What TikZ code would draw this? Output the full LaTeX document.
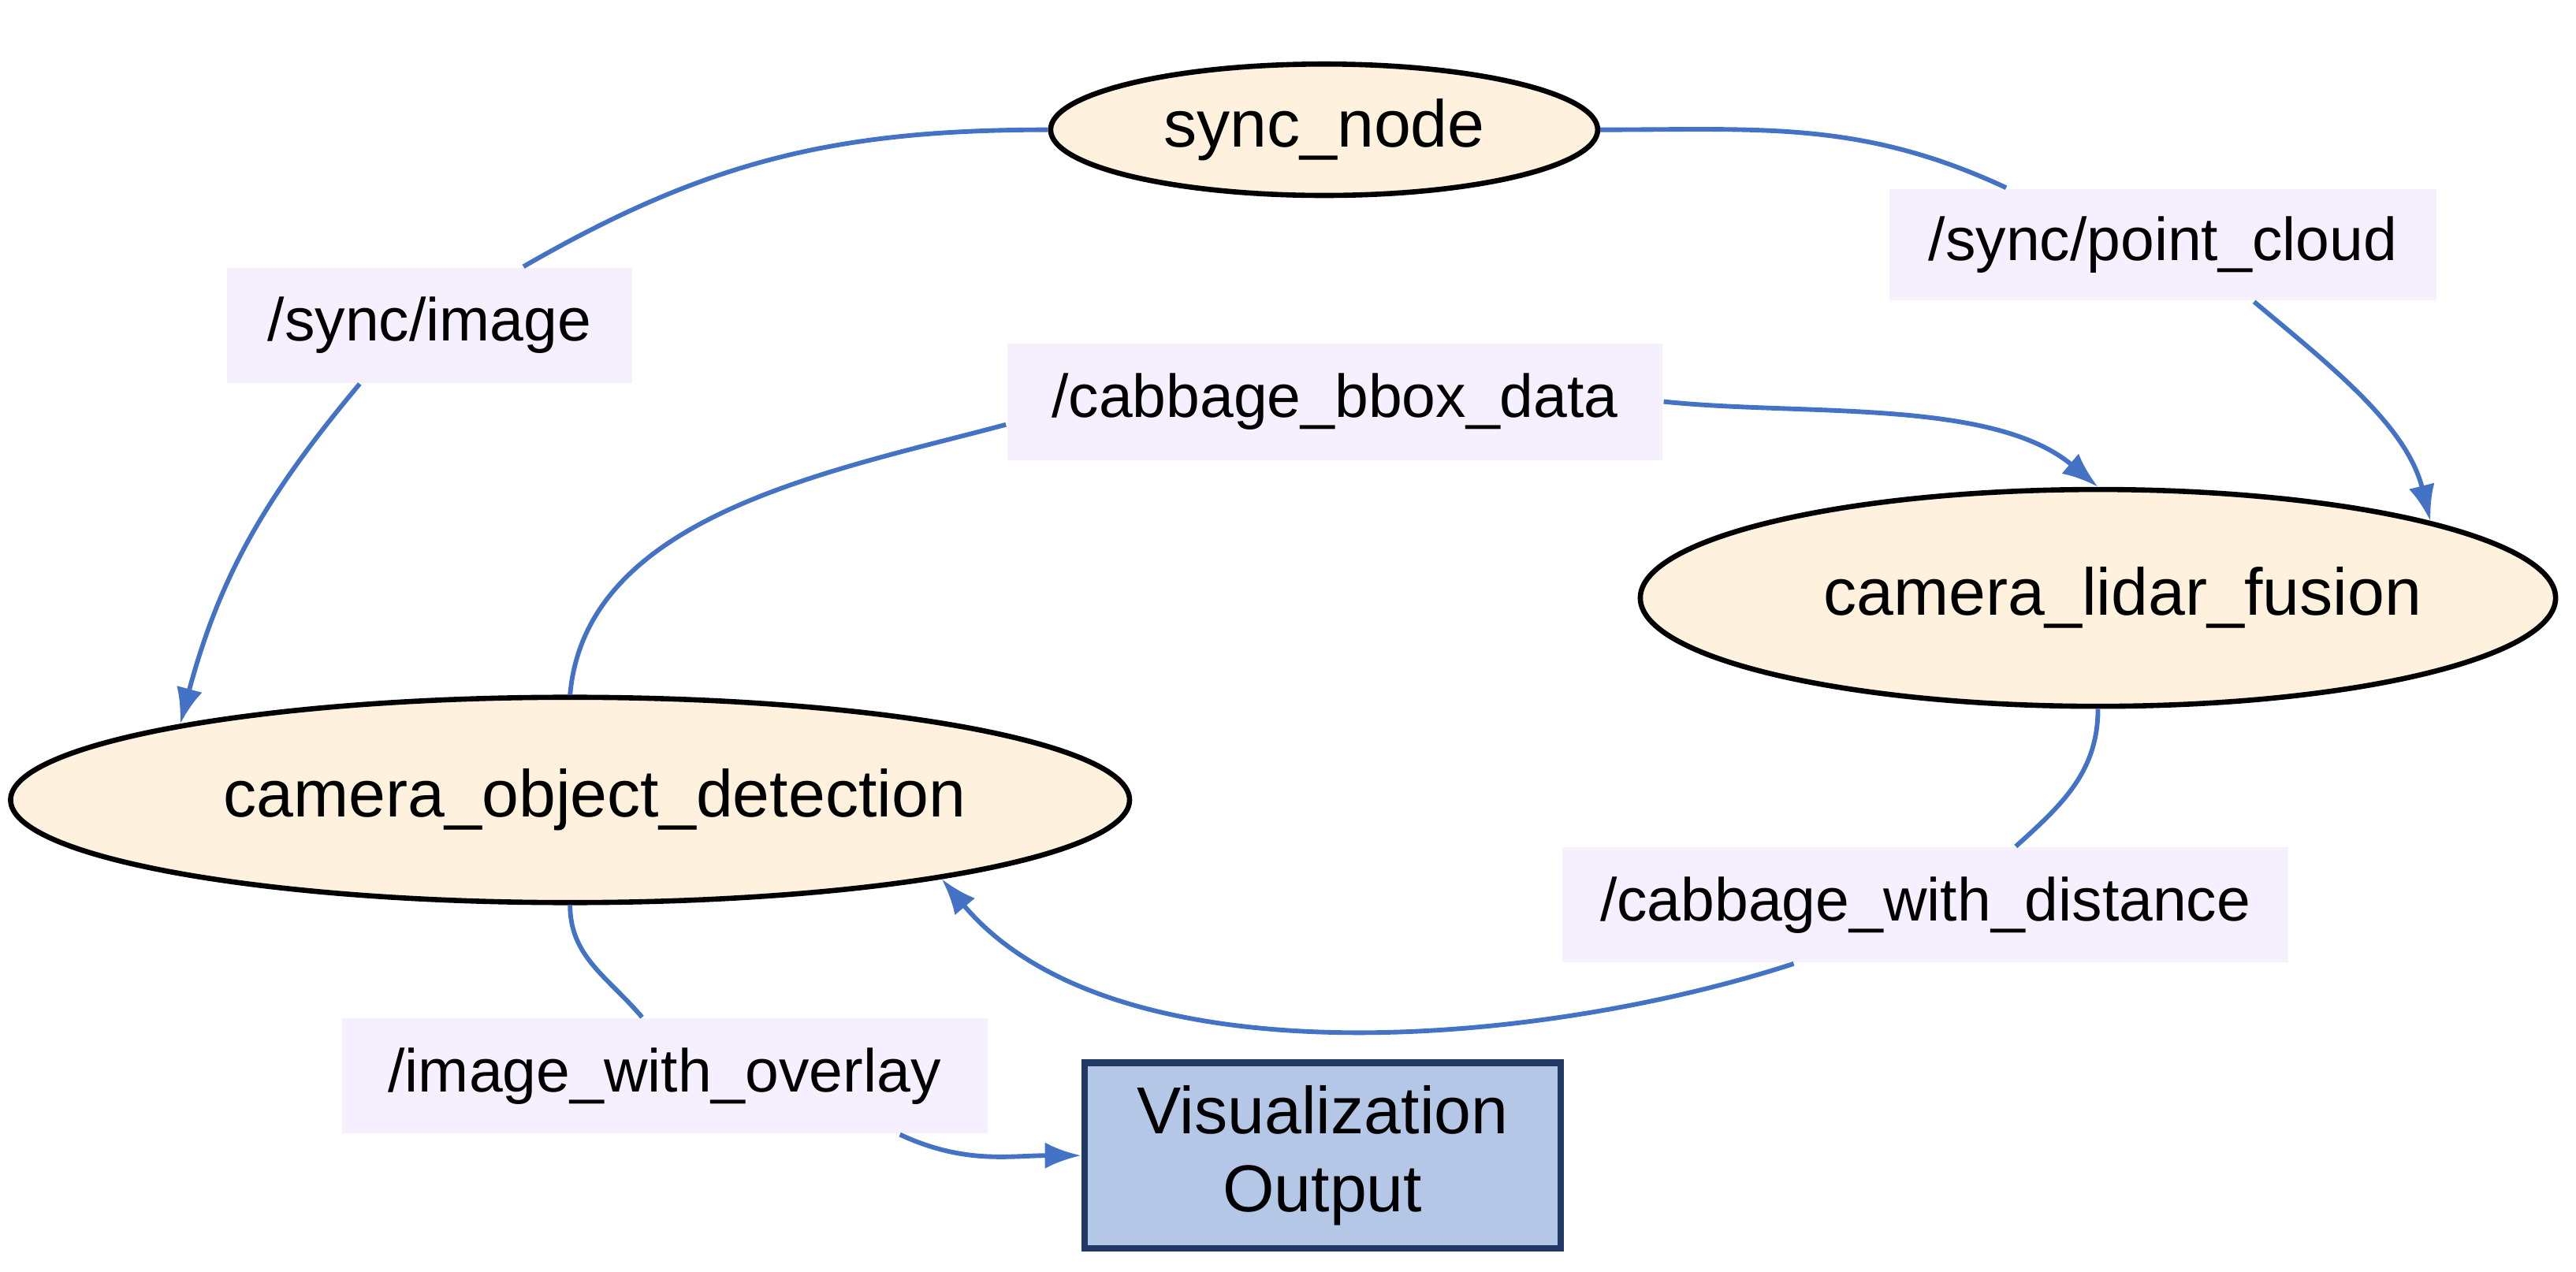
\documentclass[tikz,border=0pt]{standalone}
\usepackage{fontspec}
\setmainfont{Liberation Sans}
\usetikzlibrary{shapes.geometric,arrows.meta}
\definecolor{nodefill}{HTML}{FEF2DE}
\definecolor{topicfill}{HTML}{F6EFFD}
\definecolor{edgeblue}{HTML}{4472C4}
\definecolor{visfill}{HTML}{B4C7E7}
\definecolor{visline}{HTML}{1F3864}
\begin{document}
\begin{tikzpicture}[
    font=\fontsize{11.5}{13.5}\selectfont,
    rosnode/.style={ellipse, draw=black, line width=0.9pt, fill=nodefill, inner sep=0pt},
    topic/.style={rectangle, fill=topicfill, inner sep=0pt, minimum height=0.70cm, font=\fontsize{10.5}{12.5}\selectfont},
    link/.style={edgeblue, line width=0.8pt},
    arrowlink/.style={link, -{Latex[length=2.2mm,width=1.6mm]}}
    ]
        \useasboundingbox (0,0) rectangle (15.68,-7.74);

        \node[rosnode, minimum width=3.33cm, minimum height=0.80cm] (sync) at (8.06,-0.79) {sync\_node};
        \node[rosnode, minimum width=6.74cm, minimum height=1.25cm] (cod) at (3.47,-4.87) {\hspace*{0.3cm}camera\_object\_detection};
        \node[rosnode, minimum width=5.55cm, minimum height=1.32cm] (clf) at (12.77,-3.64) {\hspace*{0.3cm}camera\_lidar\_fusion};
        \node[rectangle, draw=visline, line width=1.1pt, fill=visfill, align=center,
              minimum width=2.90cm, minimum height=1.13cm] (vis) at (8.05,-7.035) {Visualization\\Output};

        \node[topic, minimum width=2.47cm] (img) at (2.615,-1.98) {/sync/image};
        \node[topic, minimum width=3.33cm, minimum height=0.68cm] (cloud) at (13.165,-1.49) {/sync/point\_cloud};
        \node[topic, minimum width=3.99cm, minimum height=0.71cm] (bbox) at (8.125,-2.445) {/cabbage\_bbox\_data};
        \node[topic, minimum width=4.42cm] (dist) at (11.72,-5.51) {/cabbage\_with\_distance};
        \node[topic, minimum width=3.93cm] (overlay) at (4.045,-6.55) {/image\_with\_overlay};

        \draw[link] (sync.west) to[out=180, in=30] (img.32);
        \draw[arrowlink] (img.220) to[out=-130, in=75] (cod.169);
        \draw[link] (sync.east) to[out=0, in=155] (cloud.160);
        \draw[arrowlink] (cloud.-32) to[out=-40, in=104, looseness=0.9] (clf.13);
        \draw[link] (cod.north) to[out=85, in=195, looseness=0.9] (bbox.184);
        \draw[arrowlink] (bbox.east) to[out=-6, in=140, looseness=0.8] (clf.north);
        \draw[link] (clf.south) to[out=-90, in=42] (dist.33);
        \draw[arrowlink] (dist.204) to[out=-162, in=-50, looseness=0.8] (cod.-12);
        \draw[link] (cod.south) to[out=-90, in=130] (overlay.111);
        \draw[arrowlink] (overlay.-14) to[out=-25, in=180] (vis.west);
    \end{tikzpicture}
\end{document}
